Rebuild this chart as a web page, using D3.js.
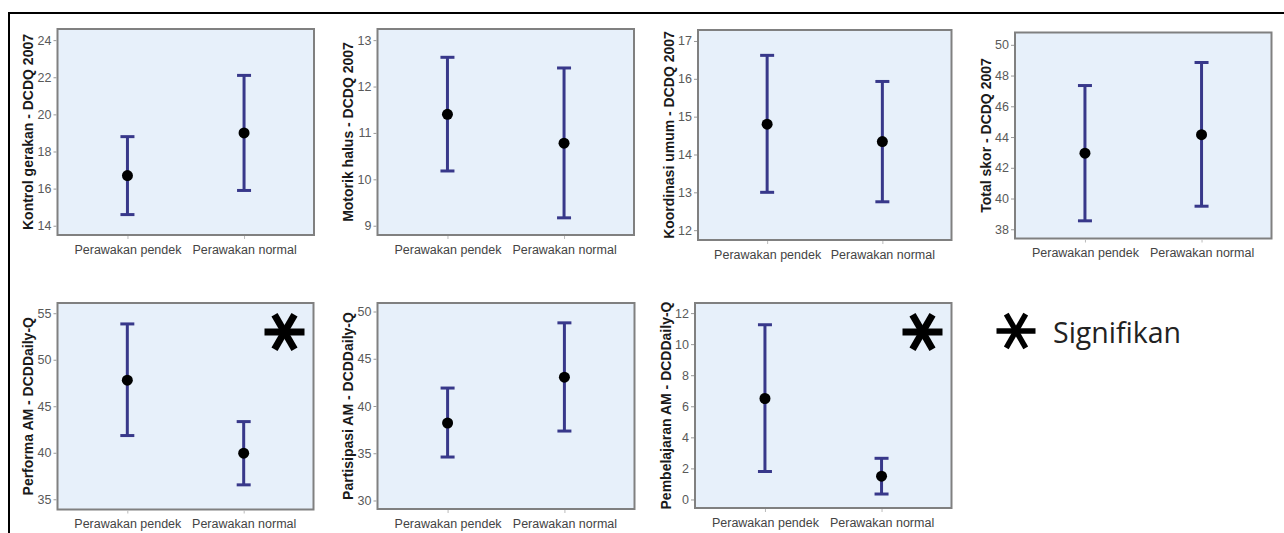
<!DOCTYPE html>
<html>
<head>
<meta charset="utf-8">
<script src="https://cdn.jsdelivr.net/npm/d3@7"></script>
<style>
  body { margin: 0; background: #fff; }
  svg { display: block; }
</style>
</head>
<body>
<div id="chart"></div>
<script>
// data
var categories = ["Perawakan pendek", "Perawakan normal"];
var yTitles = [
  "Kontrol gerakan - DCDQ 2007",
  "Motorik halus - DCDQ 2007",
  "Koordinasi umum - DCDQ 2007",
  "Total skor - DCDQ 2007",
  "Performa AM - DCDDaily-Q",
  "Partisipasi AM - DCDDaily-Q",
  "Pembelajaran AM - DCDDaily-Q"
];
var means  = [[16.7, 19.0], [11.4, 10.78], [14.8, 14.34], [42.95, 44.15], [47.8, 39.95], [38.2, 43.05], [6.5, 1.5]];
var lowers = [[14.6, 15.9], [10.18, 9.17], [13.0, 12.75], [38.55, 39.5], [41.85, 36.55], [34.6, 37.35], [1.8, 0.35]];
var uppers = [[18.8, 22.1], [12.63, 12.4], [16.62, 15.93], [47.35, 48.85], [53.85, 43.35], [41.9, 48.8], [11.25, 2.65]];
var yTicks = [
  [14, 16, 18, 20, 22, 24],
  [9, 10, 11, 12, 13],
  [12, 13, 14, 15, 16, 17],
  [38, 40, 42, 44, 46, 48, 50],
  [35, 40, 45, 50, 55],
  [30, 35, 40, 45, 50],
  [0, 2, 4, 6, 8, 10, 12]
];
var yLimits = [[13.5, 24.6], [8.8, 13.24], [11.74, 17.29], [37.4, 50.8], [33.9, 56.1], [29.1, 50.9], [-0.55, 12.65]];
var significant = [false, false, false, false, true, false, true];
var legendLabel = "Signifikan";

// panel boxes [left, top, right, bottom]
var boxes = [
  [57.5, 29, 314, 235],
  [377.5, 29, 634, 235],
  [698, 30, 951.5, 240],
  [1015, 32.5, 1271.5, 238.5],
  [57.5, 303, 313.5, 509.5],
  [377.5, 303, 634.5, 509],
  [695, 303, 951.5, 508]
];

var width = 1284, height = 533;
var barColor = "#38388a";

var svg = d3.select("#chart").append("svg")
  .attr("width", width)
  .attr("height", height);

// outer frame (top + left only)
svg.append("path")
  .attr("d", "M9,533 V13 H1284")
  .attr("fill", "none")
  .attr("stroke", "#000")
  .attr("stroke-width", 2);

function asterisk(g, cx, cy, r, w) {
  [0, 60, 120].forEach(function (a) {
    g.append("rect")
      .attr("x", cx - r).attr("y", cy - w / 2)
      .attr("width", 2 * r).attr("height", w)
      .attr("fill", "#000")
      .attr("transform", "rotate(" + a + "," + cx + "," + cy + ")");
  });
}

yTitles.forEach(function (title, i) {
  var b = boxes[i];
  var g = svg.append("g");

  var x = d3.scalePoint().domain(categories).range([b[0], b[2]]).padding(0.6);
  var y = d3.scaleLinear().domain(yLimits[i]).range([b[3], b[1]]);

  g.append("rect")
    .attr("x", b[0]).attr("y", b[1])
    .attr("width", b[2] - b[0]).attr("height", b[3] - b[1])
    .attr("fill", "#e7f0fa")
    .attr("stroke", "#808080")
    .attr("stroke-width", 2);

  var yAxis = g.append("g")
    .attr("transform", "translate(" + (b[0] - 1) + ",0)")
    .call(d3.axisLeft(y).tickValues(yTicks[i]).tickSize(3).tickPadding(2).tickFormat(d3.format("d")));
  yAxis.select(".domain").remove();
  yAxis.selectAll("line").attr("stroke", "#999");
  yAxis.selectAll("text")
    .attr("fill", "#595959")
    .style("font-family", "Liberation Sans, Arial, sans-serif")
    .style("font-size", "12.5px");

  var xAxis = g.append("g")
    .attr("transform", "translate(0," + (b[3] + 1) + ")")
    .call(d3.axisBottom(x).tickSize(3).tickPadding(6));
  xAxis.select(".domain").remove();
  xAxis.selectAll("line").attr("stroke", "#bbb");
  xAxis.selectAll("text")
    .attr("fill", "#444")
    .style("font-family", "Liberation Sans, Arial, sans-serif")
    .style("font-size", "12.5px");

  g.append("text")
    .attr("transform", "translate(" + (b[0] - 29) + "," + ((b[1] + b[3]) / 2) + ") rotate(-90)")
    .attr("text-anchor", "middle")
    .attr("dy", "0.35em")
    .attr("fill", "#1a1a1a")
    .style("font-family", "Liberation Sans, Arial, sans-serif")
    .style("font-weight", "bold")
    .style("font-size", "14px")
    .text(title);

  var bars = categories.map(function (c, j) {
    return { cat: c, mean: means[i][j], lo: lowers[i][j], hi: uppers[i][j] };
  });

  g.selectAll(".whisker").data(bars).enter().append("line")
    .attr("x1", function (d) { return x(d.cat); })
    .attr("x2", function (d) { return x(d.cat); })
    .attr("y1", function (d) { return y(d.lo); })
    .attr("y2", function (d) { return y(d.hi); })
    .attr("stroke", barColor).attr("stroke-width", 3);

  ["lo", "hi"].forEach(function (k) {
    g.selectAll(".cap-" + k).data(bars).enter().append("line")
      .attr("x1", function (d) { return x(d.cat) - 7; })
      .attr("x2", function (d) { return x(d.cat) + 7; })
      .attr("y1", function (d) { return y(d[k]); })
      .attr("y2", function (d) { return y(d[k]); })
      .attr("stroke", barColor).attr("stroke-width", 3);
  });

  g.selectAll(".mean").data(bars).enter().append("circle")
    .attr("cx", function (d) { return x(d.cat); })
    .attr("cy", function (d) { return y(d.mean); })
    .attr("r", 5.5)
    .attr("fill", "#000");

  if (significant[i]) asterisk(g, b[2] - 29, b[1] + 29, 20, 7);
});

// legend
var lg = svg.append("g");
asterisk(lg, 1016, 331, 19.5, 5.5);
lg.append("text")
  .attr("x", 1053).attr("y", 343)
  .attr("fill", "#222")
  .style("font-family", "Open Sans, sans-serif")
  .style("font-size", "28.5px")
  .text(legendLabel);
</script>
</body>
</html>
